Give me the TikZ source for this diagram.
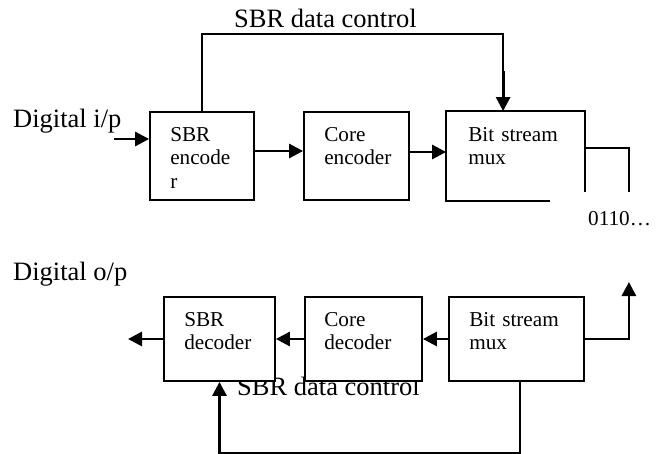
\documentclass[tikz,border=0pt]{standalone}
\usepackage{fontspec}
\setmainfont{Liberation Serif}
\usetikzlibrary{positioning, calc, arrows.meta}

\tikzset{
  blk/.style={draw, line width=1.8pt, fill=white, inner sep=0pt},
  blktxt/.style={anchor=base west, inner sep=0pt, text width=110pt, align=left,
    font=\fontsize{21.2}{23.5}\selectfont},
  lbl/.style={anchor=base west, inner sep=0pt, font=\fontsize{26.5}{30}\selectfont},
  wire/.style={line width=1.8pt},
  sig/.style={line width=2.8pt, -{Triangle[length=14pt, width=14pt]}}
}

\begin{document}
\begin{tikzpicture}[x=1pt, y=-1pt]
    \useasboundingbox (0,0) rectangle (662,453);

    % Labels
    \node[lbl] (ctrlA) at (234,27) {SBR data control};
    \node[lbl] (din) at (13,127) {Digital i/p};
    \node[lbl] (dout) at (13,280) {Digital o/p};
    \node[blktxt] (bits) at (588,225) {0110…};
    \node[lbl] (ctrlB) at (237,395) {SBR data control};

    % Encoder chain
    \node[blk, minimum width=104pt, minimum height=88pt] (senc) at (202,156) {};
    \node[blk, minimum width=105pt, minimum height=88pt] (cenc) at (356.5,156) {};
    \node[blk, draw=none, minimum width=137pt, minimum height=88pt] (tmux) at (515.5,156) {};
    \node[blktxt] at ($(senc.north west)+(21,30)$) {SBR\\encode\\r};
    \node[blktxt] at ($(cenc.north west)+(21,30)$) {Core\\encoder};
    \node[blktxt] at ($(tmux.north west)+(22,30)$) {Bit stream\\mux};

    % Decoder chain
    \node[blk, minimum width=111pt, minimum height=84pt] (sdec) at (219.5,339) {};
    \node[blk, minimum width=117pt, minimum height=84pt] (cdec) at (363.5,339) {};
    \node[blk, minimum width=135pt, minimum height=84pt] (bmux) at (516.5,339) {};
    \node[blktxt] at ($(sdec.north west)+(21,30)$) {SBR\\decoder};
    \node[blktxt] at ($(cdec.north west)+(20,30)$) {Core\\decoder};
    \node[blktxt] at ($(bmux.north west)+(21,30)$) {Bit stream\\mux};

    % Encoder connections
    \coordinate (inA) at (114,139);
    \draw[sig] (inA) -- (inA -| senc.west);
    \draw[sig] ($(senc.east)+(0,-5)$) -- ($(cenc.west)+(0,-5)$);
    \draw[sig] ($(cenc.east)+(0,-4)$) -- ($(tmux.west)+(0,-4)$);
    \draw[wire] ($(tmux.south west)+(104,0)$) -- (tmux.south west) -- (tmux.north west)
      -- (tmux.north east) -- ($(tmux.north east)+(0,81)$);
    \draw[wire] ($(tmux.north east)+(0,37)$) -- ++(44,0) -- ++(0,44);
    \draw[wire] (senc.north) -- ++(0,-77) -| ($(tmux.north west)+(57,-40)$) coordinate (ctrlE);
    \draw[sig] (ctrlE) -- ($(tmux.north west)+(57,0)$);

    % Decoder connections
    \coordinate (outA) at (128,339);
    \draw[sig] (bmux.west) -- (cdec.east);
    \draw[sig] (cdec.west) -- (sdec.east);
    \draw[sig] (sdec.west) -- (outA);
    \draw[sig] (bmux.east) -- ++(44,0) -- ++(0,-57);
    \draw[sig] ($(bmux.south)+(3.5,0)$) -- ++(0,71) -| (sdec.south);
\end{tikzpicture}
\end{document}
